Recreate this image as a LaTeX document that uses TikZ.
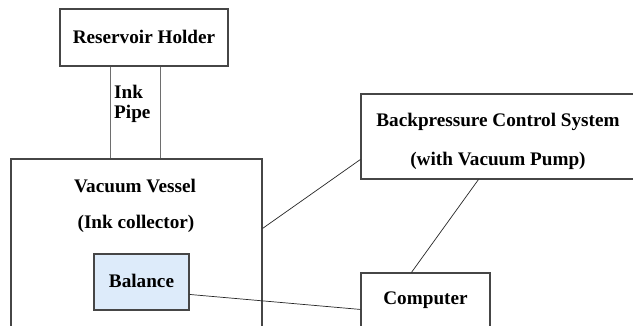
\documentclass[tikz,border=0pt]{standalone}
\usepackage{fontspec}
\setmainfont{Liberation Serif}
\usetikzlibrary{calc}
\definecolor{boxline}{RGB}{70,70,70}
\definecolor{pipeline}{RGB}{110,110,110}
\definecolor{balfill}{RGB}{221,235,250}
\tikzset{
  box/.style={draw=boxline, line width=1.1pt, rectangle, inner sep=0pt},
  lbl/.style={font=\fontsize{19.2}{23}\selectfont\bfseries, inner sep=0pt},
  conn/.style={draw=black!85, line width=0.7pt},
  pipe/.style={draw=pipeline, line width=1.5pt}
}
\begin{document}
\begin{tikzpicture}[x=1pt,y=-1pt]
\clip (0,0) rectangle (633,326);
\fill[white] (0,0) rectangle (633,326);
% boxes
\node[box, minimum width=168pt, minimum height=57pt] (res) at (144,37.5) {};
\node[box, minimum width=251pt, minimum height=200pt] (ves) at (136.5,259) {};
\node[box, minimum width=282pt, minimum height=85pt] (bp) at (502,136.5) {};
\node[box, minimum width=129pt, minimum height=80pt] (comp) at (425.5,313) {};
\node[box, fill=balfill, minimum width=95pt, minimum height=56pt] (bal) at (141.5,282) {};
% texts
\node[lbl] (tres) at (144,37) {Reservoir Holder};
\node[lbl, anchor=west] (tink) at (114,92) {Ink};
\node[lbl, anchor=west] (tpipe) at (114,114) {Pipe};
\node[lbl] (tves1) at (135,186) {Vacuum Vessel};
\node[lbl] (tves2) at (136,224) {(Ink collector)};
\node[lbl] (tbal) at (141.5,281) {Balance};
\node[lbl] (tbp1) at (498,122) {Backpressure Control System};
\node[lbl] (tbp2) at (498,161) {(with Vacuum Pump)};
\node[lbl] (tcomp) at (425.5,300) {Computer};
% pipe
\draw[pipe] ($(res.south west)+(51,0)$) -- ($(ves.north west)+(100,0)$);
\draw[pipe] ($(res.south west)+(101,0)$) -- ($(ves.north west)+(150,0)$);
% connectors
\draw[conn] ($(ves.north east)+(0,70)$) -- ($(bp.north west)+(0,66)$);
\draw[conn] ($(bp.south west)+(118,0)$) -- ($(comp.north west)+(51,0)$);
\draw[conn] ($(bal.north east)+(0,41)$) -- ($(comp.north west)+(0,37)$);
\end{tikzpicture}
\end{document}
